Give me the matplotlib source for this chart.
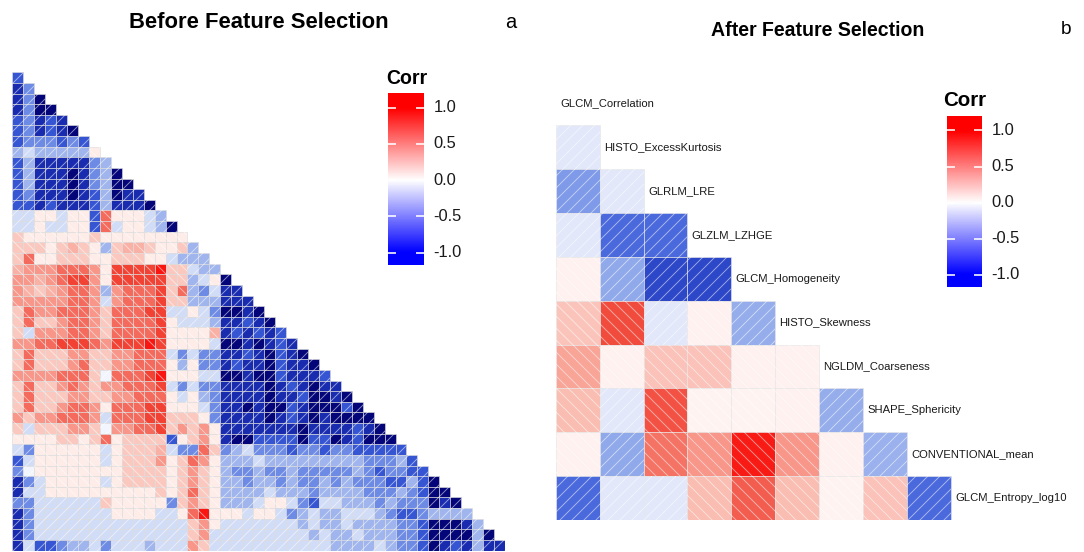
import numpy as np
import matplotlib
matplotlib.use('Agg')
import matplotlib.pyplot as plt
from matplotlib.colors import LinearSegmentedColormap, Normalize
from matplotlib.patches import Rectangle

plt.rcParams['font.family'] = ['Liberation Sans', 'DejaVu Sans']
plt.rcParams['hatch.linewidth'] = 0.9

W, H = 1084, 552

# ---- data -------------------------------------------------------------
# before selection: lower triangle, one character per cell
level_codes = {'N': -0.97, 'D': -0.8, 'B': -0.62, 'b': -0.45, 'l': -0.3, 'e': -0.15,
               'w': -0.04, 'p': 0.09, 'q': 0.25, 's': 0.35, 'r': 0.45, 'R': 0.6,
               'S': 0.76, 'T': 0.92}
before_rows = [
    "B",
    "Db",
    "DbN",
    "DbNN",
    "BbDBD",
    "BbDBDN",
    "BbbbBbB",
    "lelllllp",
    "BlDDDDDbl",
    "BlDDDNDblN",
    "BlDDDNDblNN",
    "BbDDDNDBlNDD",
    "BBDBDDDBlDDDN",
    "eeppeppBRpppel",
    "eepeeppBReppelN",
    "qppppppqpppppppp",
    "qqqpqsqplqssqppql",
    "qRppqqqppqqqppelll",
    "srrrRRRrpSSSSTqqell",
    "rrsrRSSrpSSSSSqqlepN",
    "rsqsrRRrlrRRRSqRlbeDD",
    "rrrrrRRrerRRRSqqlllDDD",
    "qRrrRRRrqRRRSS" + "eepeb" + "NNDN",
    "qRqqrRRrqRRRRS" + "peeel" + "DDBDN",
    "qerrrRRrqRRRRS" + "pppps" + "DBDBDB",
    "rrRRSSSRrSSSTS" + "ppppe" + "NNDNDBD",
    "qRqqqrrqqrrRRR" + "ebebb" + "DDBDNBDN",
    "qRqqqrRqqrrRRR" + "plpbb" + "DBDDNBDDN",
    "rrrrRRRqwRRRST" + "pppee" + "NNDNNBDDDB",
    "qRqqrRrqrrRRRS" + "ebebb" + "DDDDNDBDNDD",
    "qRqqqrrqqrrRRR" + "peplb" + "DDDDNDDBNNDN",
    "qRqqrRRrpRRRSS" + "pppeb" + "DDNDNNBDNNNBN",
    "rqrrRRRreRRRSS" + "qqqpb" + "DDDDNDBDNDNNNN",
    "qeqqqrrqwrrRRS" + "qrqrp" + "DDDDDDDNDDDDBDN",
    "ppppqqpqRpqqqq" + "Bpqrp" + "DNNBBBBNBBNDBNNN",
    "ebppppppepqqqs" + "ebbRq" + "blebbbBbbBbbBBBBB",
    "Beppppppepqqqr" + "pqRrp" + "lllelllllllllbbblB",
    "bwppppppppqqqq" + "pqrqp" + "lbblbblbbbbblbBbbBB",
    "Dbepppppepqqqq" + "pqrqp" + "llbllblbblblbbbBBlBN",
    "Deeppppppppppq" + "pqRqp" + "llllelllbllllbbblbBNN",
    "bbeeeeeeqppppp" + "bqrqp" + "llleppebBeelllblbbbNDN",
    "Dbeeeeeeeppppe" + "epRTp" + "ppeppeblelleeelbBBbllll",
    "Dbeeeeeeeeeeee" + "eeqrp" + "eeeeeeelellellllbbBNNNDl",
    "Dbeeeeeeeeeeee" + "eeqre" + "eeeeeeeelellelllbbBNNNNlN",
    "DeBBbllebeeele" + "eerqe" + "eeeeeeeeeellllelbbBNDBDlDD",
]

# after selection
after_labels = ["GLCM_Correlation", "HISTO_ExcessKurtosis", "GLRLM_LRE", "GLZLM_LZHGE",
                "GLCM_Homogeneity", "HISTO_Skewness", "NGLDM_Coarseness",
                "SHAPE_Sphericity", "CONVENTIONAL_mean", "GLCM_Entropy_log10"]
after_values = [
    [],
    [-0.1],
    [-0.4, -0.1],
    [-0.1, -0.55, -0.55],
    [0.07, -0.35, -0.68, -0.68],
    [0.27, 0.72, -0.1, 0.07, -0.33],
    [0.4, 0.07, 0.28, 0.28, 0.07, 0.07],
    [0.3, -0.1, 0.7, 0.06, 0.06, 0.07, -0.33],
    [0.07, -0.35, 0.57, 0.45, 0.9, 0.45, 0.07, -0.32],
    [-0.55, -0.1, -0.1, 0.3, 0.65, 0.3, 0.06, 0.28, -0.55],
]

cbar_ticks = [1.0, 0.5, 0.0, -0.5, -1.0]
cbar_labels = ["1.0", "0.5", "0.0", "-0.5", "-1.0"]

# ---- colours ----------------------------------------------------------
cell_cmap = LinearSegmentedColormap.from_list('cells', [
    (0.0, '#000070'), (0.1, '#1a2db0'), (0.2, '#3a5ad8'), (0.3, '#7f9be8'),
    (0.4, '#c3d1f5'), (0.5, '#ffffff'), (0.6, '#fcd5ce'), (0.7, '#f8a598'),
    (0.8, '#f46a5c'), (0.9, '#f0392c'), (1.0, '#ff0000')])
bar_cmap = LinearSegmentedColormap.from_list('bar', ['#0000ff', '#ffffff', '#ff0000'])
norm = Normalize(-1, 1)


def draw_cell(ax, x, y, v, edge, lw):
    ax.add_patch(Rectangle((x, y), 1, 1, facecolor=cell_cmap(norm(v)),
                           edgecolor=edge, linewidth=lw))
    ax.add_patch(Rectangle((x, y), 1, 1, facecolor='none', edgecolor=(1, 1, 1, 0.55),
                           linewidth=0, hatch='//' if v < 0 else '\\\\'))


def px_axes(x0, y0, w, h):
    return fig.add_axes([x0 / W, 1 - (y0 + h) / H, w / W, h / H])


def colorbar(x0, y0, w, h, lo, hi):
    cax = px_axes(x0, y0, w, h)
    grad = np.linspace(hi, lo, 200).reshape(-1, 1)
    cax.imshow(grad, cmap=bar_cmap, norm=norm, aspect='auto',
               extent=[0, 1, lo, hi], interpolation='bilinear')
    cax.set_xlim(0, 1)
    cax.set_ylim(lo, hi)
    for t, lab in zip(cbar_ticks, cbar_labels):
        cax.plot([0, 0.22], [t, t], color='white', lw=1.6, solid_capstyle='butt')
        cax.plot([0.78, 1], [t, t], color='white', lw=1.6, solid_capstyle='butt')
        cax.text(1.27, t, lab, transform=cax.get_yaxis_transform(), ha='left',
                 va='center', fontsize=16.5, color='#1a1a1a')
    cax.axis('off')
    return cax


fig = plt.figure(figsize=(W / 72, H / 72), dpi=72)

# ---- left panel -------------------------------------------------------
n = len(before_rows)
axl = px_axes(12.3, 72.3, 492.7, 478.3)
for r, row in enumerate(before_rows):
    for c, ch in enumerate(row):
        draw_cell(axl, c, r, level_codes[ch], '#dcdcdc', 0.6)
axl.set_xlim(0, n)
axl.set_ylim(n, 0)
axl.axis('off')

colorbar(388, 93, 36, 172, -1.17, 1.2)
fig.text(386 / W, 1 - 78 / H, "Corr", ha='left', va='center', fontsize=19.5,
         fontweight='bold')
fig.text(259 / W, 1 - 22 / H, "Before Feature Selection", ha='center', va='center',
         fontsize=22, fontweight='bold')
fig.text(511 / W, 1 - 22 / H, "a", ha='center', va='center', fontsize=20)

# ---- right panel ------------------------------------------------------
cell = 43.9
axr = px_axes(555.7, 81.1, 10 * cell, 10 * cell)
for k, (lab, vals) in enumerate(zip(after_labels, after_values)):
    for j, v in enumerate(vals):
        draw_cell(axr, j, k, v, '#e6e6e6', 0.6)
    axr.text(k + 0.1, k + 0.5, lab, ha='left', va='center', fontsize=11.3,
             color='#1a1a1a')
axr.set_xlim(0, 10)
axr.set_ylim(10, 0)
axr.axis('off')

colorbar(947, 116, 35, 171, -1.17, 1.2)
fig.text(943 / W, 1 - 101 / H, "Corr", ha='left', va='center', fontsize=20.5,
         fontweight='bold')
fig.text(818 / W, 1 - 30 / H, "After Feature Selection", ha='center', va='center',
         fontsize=19.5, fontweight='bold')
fig.text(1066 / W, 1 - 30 / H, "b", ha='center', va='center', fontsize=19)

fig.savefig('out.png', dpi=72)
